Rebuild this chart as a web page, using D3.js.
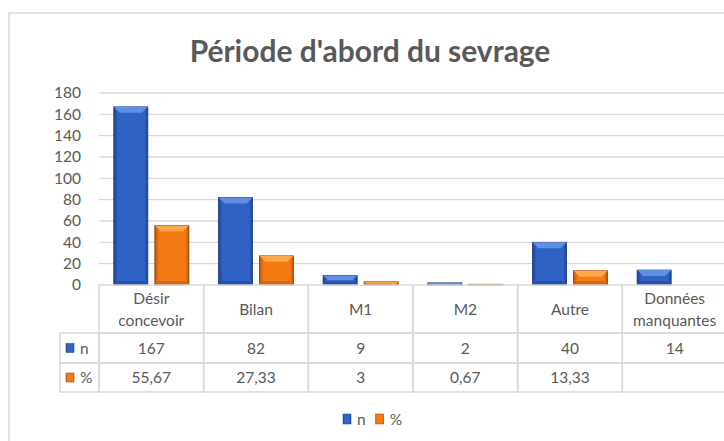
<!DOCTYPE html>
<html lang="fr">
<head>
<meta charset="utf-8">
<title>Période d'abord du sevrage</title>
<style>
  body { margin: 0; background: #fff; }
  svg { display: block; font-family: Lato, "Open Sans", sans-serif; }
  .grid line { stroke: #d9d9d9; stroke-width: 1.3px; }
  .cell { stroke: #d9d9d9; stroke-width: 1.5px; fill: none; }
  text { fill: #595959; }
</style>
</head>
<body>
<div id="chart"></div>
<script src="https://d3js.org/d3.v7.min.js"></script>
<script>
// chart data
var categories = ["Désir concevoir", "Bilan", "M1", "M2", "Autre", "Données manquantes"];
var seriesNames = ["n", "%"];
var nValues = [167, 82, 9, 2, 40, 14];
var pctValues = [55.67, 27.33, 3, 0.67, 13.33, null];
var yTicks = [0, 20, 40, 60, 80, 100, 120, 140, 160, 180];

var width = 724, height = 441;
var plotLeft = 99, plotRight = 727, plotTop = 93, plotBottom = 285;
var rowH = [48, 30, 29];        // category row, n row, % row
var legendColLeft = 60;

var fr = d3.formatLocale({decimal: ",", thousands: " ", grouping: [3], currency: ["", " €"]});
var fmt = fr.format(".2~f");

var colors = {
  n:   {base: "#2f62c4", light: "#5f8fe2", dark: "#1d4291", edge: "#1a3c82"},
  "%": {base: "#f47a13", light: "#ffa54a", dark: "#b9560a", edge: "#8a3f06"}
};

var svg = d3.select("#chart").append("svg")
  .attr("width", width).attr("height", height);

// outer chart frame
svg.append("rect")
  .attr("x", 9).attr("y", 13).attr("width", 740).attr("height", 460)
  .attr("fill", "#fff").attr("stroke", "#d9d9d9").attr("stroke-width", 1.5);

// gradients for the bevelled bars
var defs = svg.append("defs");
seriesNames.forEach(function(s, i) {
  var g = defs.append("linearGradient").attr("id", "grad" + i)
    .attr("x1", "0%").attr("x2", "100%").attr("y1", "0%").attr("y2", "0%");
  g.append("stop").attr("offset", "0%").attr("stop-color", colors[s].dark);
  g.append("stop").attr("offset", "12%").attr("stop-color", colors[s].base);
  g.append("stop").attr("offset", "55%").attr("stop-color", colors[s].base);
  g.append("stop").attr("offset", "90%").attr("stop-color", colors[s].base);
  g.append("stop").attr("offset", "100%").attr("stop-color", colors[s].dark);
});

// title
var title = svg.append("text")
  .attr("x", 370).attr("y", 62)
  .attr("text-anchor", "middle")
  .attr("font-weight", "bold")
  .attr("font-size", 28)
  .text("Période d'abord du sevrage");
var tw = title.node().getComputedTextLength();
title.attr("font-size", 28 * 361 / tw);

// scales
var x = d3.scaleBand().domain(categories).range([plotLeft, plotRight]);
var xs = d3.scaleBand().domain(seriesNames).range([0, x.bandwidth()])
  .paddingInner(0.17).paddingOuter(0.36);
var y = d3.scaleLinear().domain([0, 180]).range([plotBottom, plotTop]);

// gridlines
svg.append("g").attr("class", "grid")
  .selectAll("line").data(yTicks.slice(1)).enter().append("line")
  .attr("x1", plotLeft).attr("x2", plotRight)
  .attr("y1", function(d) { return y(d); }).attr("y2", function(d) { return y(d); });

// y axis labels
var yAxis = svg.append("g")
  .attr("transform", "translate(" + (plotLeft - 18) + ",0)")
  .call(d3.axisLeft(y).tickValues(yTicks).tickSize(0).tickPadding(0));
yAxis.select(".domain").remove();
yAxis.selectAll("text")
  .attr("fill", "#595959").attr("font-size", 15.5)
  .attr("font-family", "Lato, 'Open Sans', sans-serif");

// bars
var rows = [];
categories.forEach(function(c, i) {
  rows.push({cat: c, s: "n", si: 0, v: nValues[i]});
  if (pctValues[i] != null) rows.push({cat: c, s: "%", si: 1, v: pctValues[i]});
});

var bars = svg.append("g").selectAll("g").data(rows).enter().append("g");

function barGeom(d) {
  var x0 = x(d.cat) + xs(d.s), w = xs.bandwidth();
  var y0 = y(d.v), h = y(0) - y(d.v);
  return {x0: x0, w: w, y0: y0, h: h, b: Math.min(6, h / 2)};
}

bars.append("rect")
  .attr("x", function(d) { return barGeom(d).x0; })
  .attr("y", function(d) { return barGeom(d).y0; })
  .attr("width", xs.bandwidth())
  .attr("height", function(d) { return barGeom(d).h; })
  .attr("fill", function(d) { return "url(#grad" + d.si + ")"; })
  .attr("stroke", function(d) { return colors[d.s].edge; })
  .attr("stroke-width", 0.8);

// top bevel
bars.append("polygon")
  .attr("points", function(d) {
    var g = barGeom(d);
    return [[g.x0, g.y0], [g.x0 + g.w, g.y0], [g.x0 + g.w - g.b, g.y0 + g.b], [g.x0 + g.b, g.y0 + g.b]].join(" ");
  })
  .attr("fill", function(d) { return colors[d.s].light; });

// bottom bevel
bars.append("polygon")
  .attr("points", function(d) {
    var g = barGeom(d), yb = g.y0 + g.h;
    var b = Math.min(4, g.h / 3);
    return [[g.x0, yb], [g.x0 + g.w, yb], [g.x0 + g.w - b, yb - b], [g.x0 + b, yb - b]].join(" ");
  })
  .attr("fill", function(d) { return colors[d.s].dark; })
  .attr("opacity", 0.55);

// data table
var table = svg.append("g");
var rowY = [plotBottom, plotBottom + rowH[0], plotBottom + rowH[0] + rowH[1]];
var tableBottom = rowY[2] + rowH[2];

// category row cells
table.selectAll(".catcell").data(categories).enter().append("rect")
  .attr("class", "cell")
  .attr("x", function(d) { return x(d); }).attr("y", rowY[0])
  .attr("width", x.bandwidth()).attr("height", rowH[0]);

// value rows
[nValues, pctValues].forEach(function(vals, r) {
  var yy = rowY[r + 1], hh = rowH[r + 1];
  table.append("rect").attr("class", "cell")
    .attr("x", legendColLeft).attr("y", yy)
    .attr("width", plotLeft - legendColLeft).attr("height", hh);
  table.selectAll(".vcell" + r).data(categories).enter().append("rect")
    .attr("class", "cell")
    .attr("x", function(d) { return x(d); }).attr("y", yy)
    .attr("width", x.bandwidth()).attr("height", hh);
  table.selectAll(".vtext" + r).data(vals).enter().append("text")
    .attr("x", function(d, i) { return x(categories[i]) + x.bandwidth() / 2; })
    .attr("y", yy + hh / 2 + 5.5)
    .attr("text-anchor", "middle").attr("font-size", 15.5)
    .text(function(d) { return d == null ? "" : fmt(d); });
  // key in table
  var s = seriesNames[r];
  table.append("rect")
    .attr("x", 66).attr("y", yy + hh / 2 - 4.5).attr("width", 8).attr("height", 9)
    .attr("fill", "url(#grad" + r + ")").attr("stroke", colors[s].edge).attr("stroke-width", 0.5);
  table.append("text")
    .attr("x", 80).attr("y", yy + hh / 2 + 5.5)
    .attr("font-size", 15.5).text(s);
});

// category labels (wrap at spaces)
table.selectAll(".cattext").data(categories).enter().append("text")
  .attr("text-anchor", "middle").attr("font-size", 15.5)
  .each(function(d) {
    var words = d.split(" ");
    var cx = x(d) + x.bandwidth() / 2;
    var mid = rowY[0] + rowH[0] / 2 + 5.5;
    var t = d3.select(this);
    words.forEach(function(w, k) {
      t.append("tspan").attr("x", cx)
        .attr("y", mid + (k - (words.length - 1) / 2) * 22)
        .text(w);
    });
  });

// legend
var legend = svg.append("g").attr("transform", "translate(343,419)");
var lx = 0;
seriesNames.forEach(function(s, i) {
  legend.append("rect").attr("x", lx).attr("y", -5).attr("width", 8).attr("height", 10)
    .attr("fill", "url(#grad" + i + ")").attr("stroke", colors[s].edge).attr("stroke-width", 0.5);
  var t = legend.append("text").attr("x", lx + 14).attr("y", 5.5)
    .attr("font-size", 15.5).text(s);
  lx += 14 + t.node().getComputedTextLength() + 10;
});
</script>
</body>
</html>
